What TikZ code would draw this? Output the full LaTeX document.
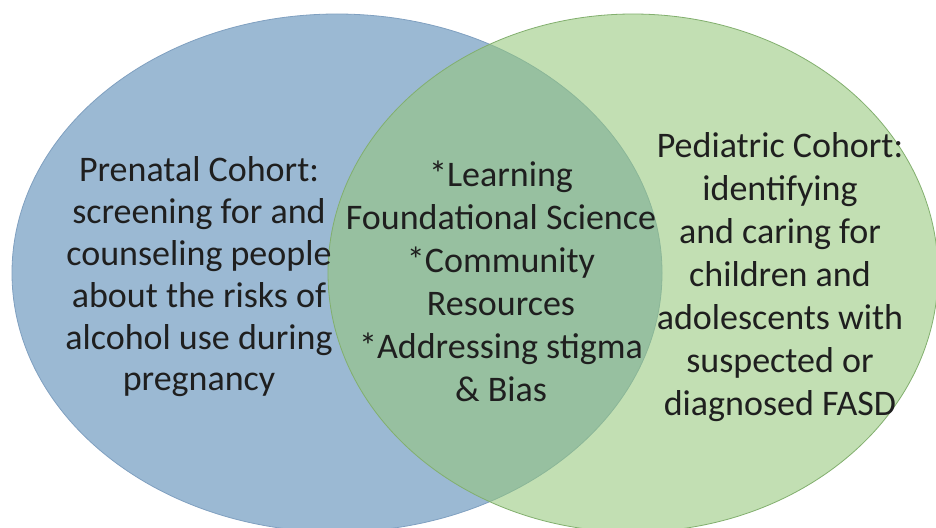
\documentclass[tikz,border=0pt]{standalone}
\usepackage{fontspec}
\setmainfont{Carlito}
\definecolor{bluefill}{RGB}{155,185,211}
\definecolor{blueline}{RGB}{128,160,192}
\definecolor{greenfill}{RGB}{148,199,122}
\definecolor{greenline}{RGB}{130,175,110}
\tikzset{
  lbl/.style={align=center, font=\fontsize{36}{43}\selectfont, text=black!88, inner sep=0pt},
}
\begin{document}
\begin{tikzpicture}[x=1pt,y=-1pt]
\useasboundingbox (0,0) rectangle (936,527);
\clip (0,0) rectangle (936,527);
\fill[white] (0,0) rectangle (936,527);
\draw[fill=bluefill, draw=blueline, line width=0.8pt] (337,273) ellipse [x radius=325, y radius=259];
\draw[fill=greenfill, fill opacity=0.57, draw=greenline, line width=0.8pt] (633,273) ellipse [x radius=305, y radius=259];
\node[lbl, font=\fontsize{36}{41.8}\selectfont] (pre) at (199,277) {Prenatal Cohort:\\screening for and\\counseling people\\about the risks of\\alcohol use during\\pregnancy};
\node[lbl] (mid) at (501,281) {*Learning\\Foundational Science\\*Community\\Resources\\*Addressing stigma\\\& Bias};
\node[lbl] (ped) at (780,277) {Pediatric Cohort:\\identifying\\and caring for\\children and\\adolescents with\\suspected or\\diagnosed FASD};
\end{tikzpicture}
\end{document}
